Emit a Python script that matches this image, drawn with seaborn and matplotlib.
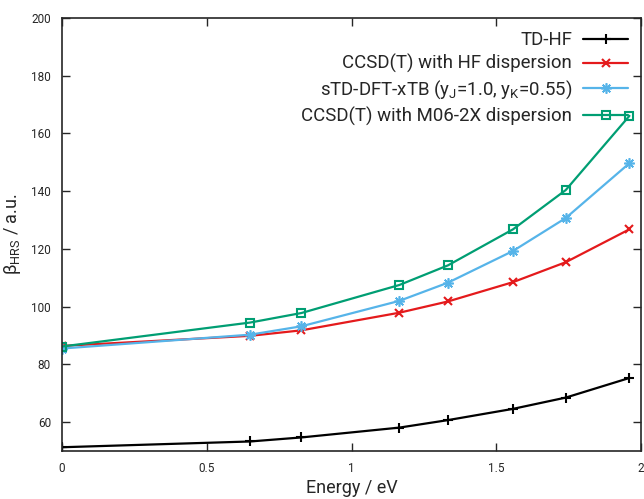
import numpy as np
import pandas as pd
import matplotlib
matplotlib.use('Agg')
import matplotlib.pyplot as plt
import seaborn as sns

# photon energies (eV)
energy = [0.0, 0.65, 0.827, 1.165, 1.333, 1.558, 1.74, 1.96]

td_hf = [51.3, 53.3, 54.7, 58.1, 60.7, 64.6, 68.5, 75.3]
ccsd_hf = [86.4, 89.9, 91.8, 97.9, 101.8, 108.5, 115.4, 126.8]
stda_xtb = [85.5, 90.3, 93.2, 102.0, 108.3, 119.3, 130.7, 149.7]
ccsd_m06 = [86.2, 94.5, 97.8, 107.5, 114.3, 126.8, 140.4, 166.1]

labels = ['TD-HF', 'CCSD(T) with HF dispersion',
          r'sTD-DFT-xTB (y$\mathregular{_J}$=1.0, y$\mathregular{_K}$=0.55)',
          'CCSD(T) with M06-2X dispersion']
colors = ['black', '#e41a1c', '#56b4e9', '#009e73']
markers = ['+', 'x', (8, 2, 0), 's']
msizes = [7, 6, 7.5, 5.5]
mews = [1.5, 1.5, 1.2, 1.5]

sns.set_style('ticks')
plt.rcParams['font.family'] = ['Roboto', 'DejaVu Sans']
plt.rcParams['mathtext.fontset'] = 'custom'
plt.rcParams['mathtext.rm'] = 'Roboto'
plt.rcParams['mathtext.it'] = 'Roboto:italic'

fig = plt.figure(figsize=(6.44, 4.99), dpi=100)
ax = fig.add_axes([62 / 644, 1 - 451 / 499, 579 / 644, 433 / 499])

for vals, lab, c, m, ms, mew in zip([td_hf, ccsd_hf, stda_xtb, ccsd_m06], labels, colors, markers, msizes, mews):
    df = pd.DataFrame({'E': energy, 'beta': vals})
    kw = dict(markerfacecolor='none') if m == 's' else {}
    sns.lineplot(data=df, x='E', y='beta', ax=ax, color=c, marker=m, label=lab,
                 linewidth=1.6, markersize=ms, markeredgewidth=mew, markeredgecolor=c, **kw)

ax.set_xlim(0, 2)
ax.set_ylim(50, 200)
ax.set_xticks([0, 0.5, 1, 1.5, 2])
ax.set_xticklabels(['0', '0.5', '1', '1.5', '2'])
ax.set_yticks(range(60, 201, 20))
ax.tick_params(direction='in', top=True, right=True, length=6, width=1, labelsize=8.5, pad=8)
for s in ax.spines.values():
    s.set_linewidth(1.2)

ax.set_xlabel('Energy / eV', fontsize=13, labelpad=3)
ax.set_ylabel(r'$\mathregular{\beta_{HRS}}$ / a.u.', fontsize=13, labelpad=6)

leg = ax.legend(loc='upper right', frameon=False, markerfirst=False, fontsize=13.4,
                handlelength=2.4, labelspacing=0.28, borderaxespad=0.3, handletextpad=0.6)

fig.savefig('out.png', dpi=100)
